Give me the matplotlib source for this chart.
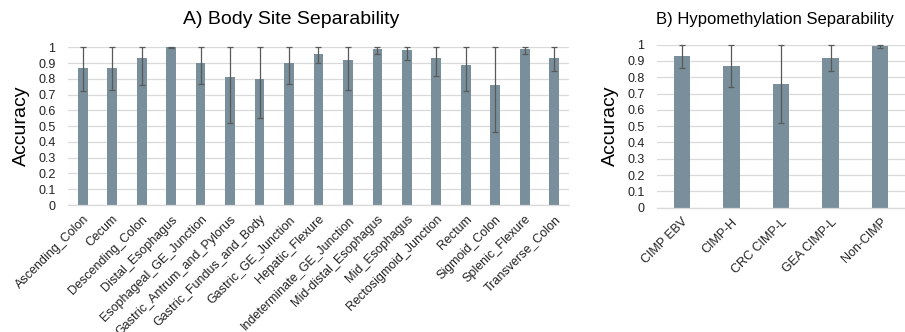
import numpy as np
import matplotlib.pyplot as plt

plt.rcParams['font.family'] = ['Liberation Sans', 'DejaVu Sans']

# body site classifier: mean accuracy with lower / upper bounds of the error bars
sites = ['Ascending_Colon', 'Cecum', 'Descending_Colon', 'Distal_Esophagus',
         'Esophageal_GE_Junction', 'Gastric_Antrum_and_Pylorus',
         'Gastric_Fundus_and_Body', 'Gastric_GE_Junction', 'Hepatic_Flexure',
         'Indeterminate_GE_Junction', 'Mid-distal_Esophagus', 'Mid_Esophagus',
         'Rectosigmoid_Junction', 'Rectum', 'Sigmoid_Colon', 'Splenic_Flexure',
         'Transverse_Colon']
site_acc = [0.87, 0.87, 0.93, 1.00, 0.90, 0.81, 0.80, 0.90, 0.96,
            0.92, 0.99, 0.98, 0.93, 0.89, 0.76, 0.99, 0.93]
site_lo = [0.72, 0.73, 0.76, 0.995, 0.77, 0.52, 0.55, 0.77, 0.90,
           0.73, 0.96, 0.92, 0.82, 0.72, 0.46, 0.96, 0.85]
site_hi = [1.0] * len(sites)

# hypomethylation classes
groups = ['CIMP EBV', 'CIMP-H', 'CRC CIMP-L', 'GEA CIMP-L', 'Non-CIMP']
grp_acc = [0.93, 0.87, 0.76, 0.92, 0.99]
grp_lo = [0.86, 0.74, 0.52, 0.84, 0.98]
grp_hi = [1.0, 1.0, 1.0, 1.0, 1.0]

BAR = '#798f9b'
GRID = '#d9d9d9'
ERR = '#595959'


def panel(ax, labels, acc, lo, hi):
    ''' bars with asymmetric error bars on a 0-1 accuracy scale '''
    x = np.arange(len(labels))
    acc, lo, hi = np.array(acc), np.array(lo), np.array(hi)
    ax.bar(x, acc, 0.33, color=BAR, zorder=2)
    ax.errorbar(x, acc, yerr=[acc - lo, hi - acc], fmt='none', ecolor=ERR,
                elinewidth=0.9, capsize=2.5, capthick=0.9, zorder=3,
                clip_on=False)
    ax.set_xlim(-0.5, len(labels) - 0.5)
    ax.set_ylim(0, 1)
    ax.set_yticks(np.arange(0, 1.01, 0.1))
    ax.set_yticklabels(['0', '0.1', '0.2', '0.3', '0.4', '0.5', '0.6', '0.7',
                        '0.8', '0.9', '1'], fontsize=9, color='#222222')
    ax.set_xticks(x)
    ax.set_xticklabels(labels, rotation=45, ha='right', rotation_mode='anchor',
                       fontsize=9, color='#222222')
    ax.tick_params(axis='x', length=0, pad=6)
    ax.tick_params(axis='y', length=0, pad=9)
    ax.grid(axis='y', color=GRID, lw=0.9, zorder=0)
    for s in ['top', 'right', 'left']:
        ax.spines[s].set_visible(False)
    ax.spines['bottom'].set_color(GRID)
    ax.spines['bottom'].set_linewidth(0.9)
    ax.set_ylabel('Accuracy', fontsize=14, labelpad=6)


fig = plt.figure(figsize=(9.05, 3.32), dpi=100)

ax1 = fig.add_axes([0.0751, 0.3825, 0.5536, 0.475])
panel(ax1, sites, site_acc, site_lo, site_hi)

ax2 = fig.add_axes([0.726, 0.3744, 0.274, 0.491])
panel(ax2, groups, grp_acc, grp_lo, grp_hi)

fig.text(0.322, 0.94, 'A) Body Site Separability', fontsize=14,
         ha='center', va='center')
fig.text(0.856, 0.942, 'B) Hypomethylation Separability', fontsize=12,
         ha='center', va='center')

fig.savefig('out.png', dpi=100)
